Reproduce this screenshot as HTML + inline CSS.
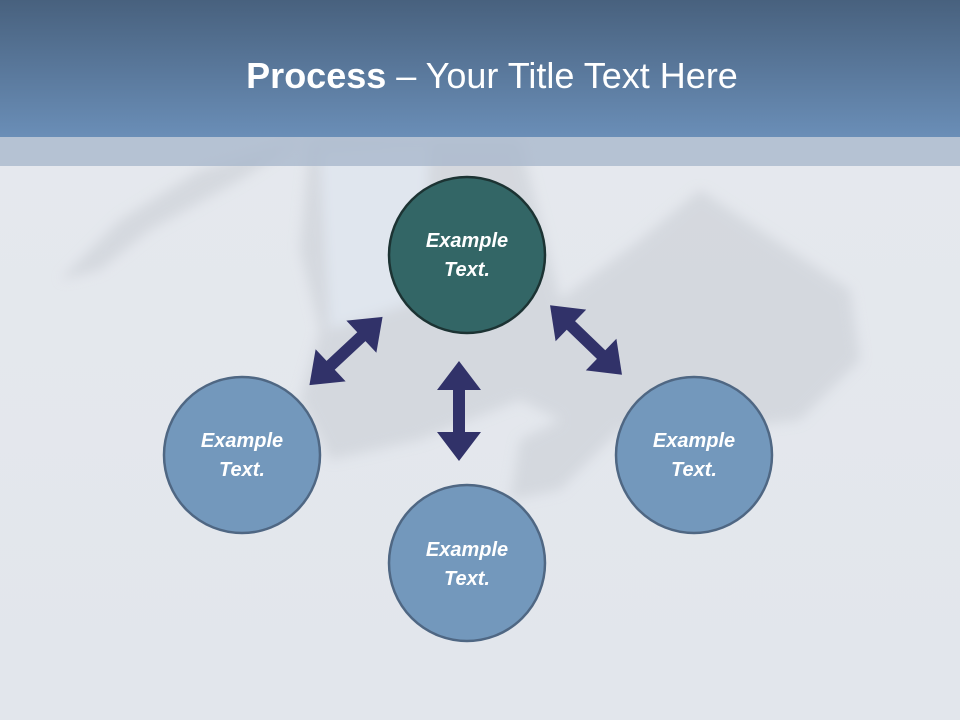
<!DOCTYPE html>
<html><head><meta charset="utf-8"><style>
html,body{margin:0;padding:0;width:960px;height:720px;overflow:hidden;}
body{font-family:"Liberation Sans",sans-serif;}
</style></head><body>
<svg width="960" height="720" viewBox="0 0 960 720" xmlns="http://www.w3.org/2000/svg">
<defs>
<linearGradient id="hg" x1="0" y1="0" x2="0" y2="1">
<stop offset="0" stop-color="#48617e"/><stop offset="1" stop-color="#6a8eb7"/>
</linearGradient>
<linearGradient id="bg" x1="0" y1="0" x2="0" y2="1">
<stop offset="0" stop-color="#e6e9ee"/><stop offset="1" stop-color="#e2e6ec"/>
</linearGradient>
<filter id="bl"><feGaussianBlur stdDeviation="6"/></filter>
<g id="arr"><polygon points="-50,0 -21,-22 -21,-6 21,-6 21,-22 50,0 21,22 21,6 -21,6 -21,22" fill="#313269"/></g>
</defs>
<rect width="960" height="720" fill="url(#bg)"/>
<g opacity="0.55" filter="url(#bl)">
<path d="M310 140 L520 140 L560 300 L640 240 L700 190 L760 230 L850 290 L860 360 L800 420 L720 430 L620 430 L560 490 L510 500 L520 440 L560 420 L520 400 L420 440 L330 460 L300 400 L320 330 L300 250 Z" fill="#c8ccd3"/>
<path d="M60 280 L120 220 L200 170 L300 140 L240 180 L150 230 L100 270 Z" fill="#c8ccd3"/>
<path d="M320 150 L430 145 L420 300 L330 330 Z" fill="#dde5f0"/>
</g>
<rect x="0" y="0" width="960" height="137" fill="url(#hg)"/>
<rect x="0" y="137" width="960" height="29" fill="#a9b8cc" opacity="0.8"/>
<text x="492" y="88" text-anchor="middle" fill="#fff" font-size="36" font-family="'Liberation Sans',sans-serif"><tspan font-weight="bold">Process</tspan> – Your Title Text Here</text>
<use href="#arr" transform="translate(459,411) rotate(90)"/>
<use href="#arr" transform="translate(346,351) rotate(-43)"/>
<use href="#arr" transform="translate(586,340) rotate(44)"/>
<g stroke-width="2.5" font-family="'Liberation Sans',sans-serif" font-weight="bold" font-style="italic" font-size="20" fill="#fff" text-anchor="middle">
<circle cx="467" cy="255" r="78" fill="#336666" stroke="#1c3333"/>
<text x="467" y="247" stroke="none">Example</text><text x="467" y="276" stroke="none">Text.</text>
<circle cx="242" cy="455" r="78" fill="#7398bc" stroke="#4f6783"/>
<text x="242" y="447" stroke="none">Example</text><text x="242" y="476" stroke="none">Text.</text>
<circle cx="694" cy="455" r="78" fill="#7398bc" stroke="#4f6783"/>
<text x="694" y="447" stroke="none">Example</text><text x="694" y="476" stroke="none">Text.</text>
<circle cx="467" cy="563" r="78" fill="#7398bc" stroke="#4f6783"/>
<text x="467" y="556" stroke="none">Example</text><text x="467" y="585" stroke="none">Text.</text>
</g>
</svg>
</body></html>
